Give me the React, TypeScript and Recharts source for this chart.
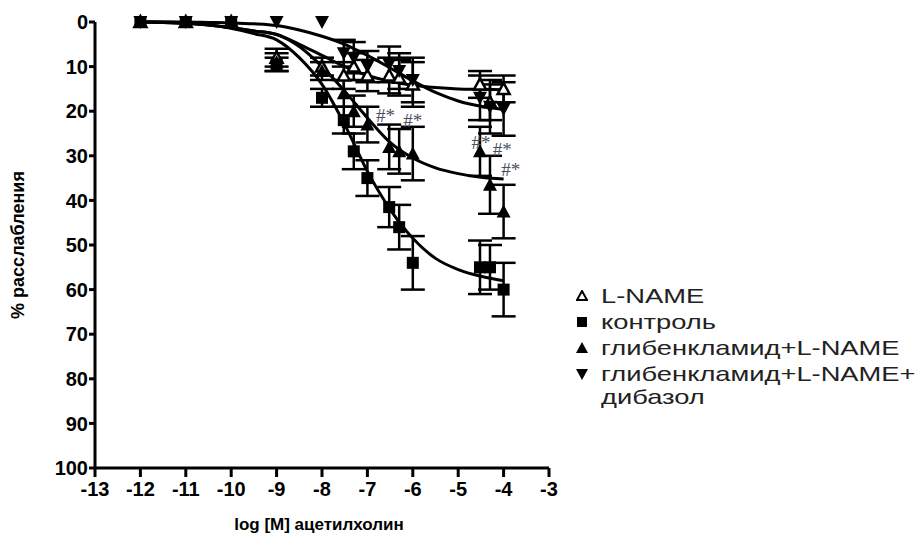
import React from 'react';
import { ComposedChart, Line, Scatter, ErrorBar, XAxis, YAxis } from 'recharts';

// log concentration of acetylcholine
const doses = [-12, -11, -10, -9, -8, -7.52, -7.3, -7, -6.52, -6.3, -6, -4.52, -4.3, -4];

const lnameMean = [0, 0, 0, 8, 10, 12, 10, 12, 12, 12.5, 14, 14, 18, 15];
const lnameErr = [0, 0, 0, 2, 2, 3, 3, 3.5, 4, 4, 5, 3, 4, 3];

const controlMean = [0, 0, 0, 9.5, 17, 22, 29, 35, 41.5, 46, 54, 55, 55, 60];
const controlErr = [0, 0, 0, 1.5, 2, 3, 4, 4, 4.5, 5, 6, 6, 5, 6];

const glibMean = [0, 0, 0, 9, 11, 16, 20, 23, 28, 29, 29.5, 29, 36.5, 42.5];
const glibErr = [0, 0, 0, 2, 2, 3, 3.5, 4, 5, 5, 6, 5.5, 6.5, 6];

const dibMean = [0, 0, 0, 0, 0, 7, 8, 10, 9.5, 11, 13, 17, 19, 19.5];
const dibErr = [0, 0, 0, 0, 0, 3, 3.5, 3.5, 4, 4, 5, 5, 6, 6];

// fitted curves
const fitX = [-12, -11.5, -11, -10.5, -10, -9.5, -9, -8.5, -8, -7.5, -7, -6.5, -6, -5.5, -5, -4.5, -4];
const controlFit = [0, 0, 0.2, 0.6, 1.4, 2.6, 4, 8, 14, 23, 33.5, 42, 48.5, 53, 55.5, 57, 58];
const glibFit = [0, 0.1, 0.3, 0.7, 1.3, 2, 2.8, 5.5, 10, 15.5, 21.5, 27, 30.5, 32.7, 34, 34.8, 35.2];
const lnameFit = [0, 0.1, 0.3, 0.7, 1.3, 2, 2.8, 5, 7.5, 10, 12, 13.3, 14.2, 14.7, 15, 15.1, 15.2];
const dibFit = [0, 0, 0, 0.1, 0.2, 0.4, 0.8, 1.8, 3.2, 5, 7.5, 10.3, 13.2, 15.8, 17.7, 18.9, 19.6];

// "#*" significance marks
const markX = [-6.6, -6.0, -4.5, -4.03, -3.84];
const markY = [21, 22, 27, 28.5, 33];

const xTicks = [-13, -12, -11, -10, -9, -8, -7, -6, -5, -4, -3];
const yTicks = [0, 10, 20, 30, 40, 50, 60, 70, 80, 90, 100];

const pts = (ys: number[], errs: number[]) => doses.map((x, i) => ({ x, y: ys[i], err: errs[i] }));
const fit = (ys: number[]) => fitX.map((x, i) => ({ x, y: ys[i] }));
const marks = markX.map((x, i) => ({ x, y: markY[i] }));

const Square = (p: any) => <rect x={p.cx - 6} y={p.cy - 6} width={12} height={12} fill="#000" />;
const TriUp = (p: any) => (
    <polygon points={`${p.cx},${p.cy - 7} ${p.cx - 7},${p.cy + 6} ${p.cx + 7},${p.cy + 6}`} fill="#000" />
);
const TriOpen = (p: any) => (
    <polygon
        points={`${p.cx},${p.cy - 6} ${p.cx - 6},${p.cy + 5} ${p.cx + 6},${p.cy + 5}`}
        fill="#fff"
        stroke="#000"
        strokeWidth={2.5}
    />
);
const TriDown = (p: any) => (
    <polygon points={`${p.cx - 7},${p.cy - 6} ${p.cx + 7},${p.cy - 6} ${p.cx},${p.cy + 7}`} fill="#000" />
);
const Mark = (p: any) => (
    <text x={p.cx} y={p.cy} textAnchor="middle" dominantBaseline="central" fontFamily="Liberation Serif, serif" fontSize={19} fill="#4a5060">
        #*
    </text>
);

const font = 'Liberation Sans, Arial, sans-serif';
const tickStyle = { fill: '#000', fontSize: 20, fontWeight: 'bold' as const, fontFamily: font };

const series = [
    { name: 'lname', data: pts(lnameMean, lnameErr), shape: TriOpen },
    { name: 'control', data: pts(controlMean, controlErr), shape: Square },
    { name: 'glib', data: pts(glibMean, glibErr), shape: TriUp },
    { name: 'dib', data: pts(dibMean, dibErr), shape: TriDown },
];
const fits = [lnameFit, controlFit, glibFit, dibFit];

const legendItems = [
    { label: 'L-NAME', icon: <polygon points="6,1 1,10 11,10" fill="#fff" stroke="#000" strokeWidth={2} /> },
    { label: 'контроль', icon: <rect x={1} y={1} width={10} height={10} fill="#000" /> },
    { label: 'глибенкламид+L-NAME', icon: <polygon points="6,0 0,11 12,11" fill="#000" /> },
    { label: 'глибенкламид+L-NAME+', icon: <polygon points="0,1 12,1 6,12" fill="#000" /> },
];

const stretched = { display: 'inline-block', transform: 'scaleX(1.3)', transformOrigin: 'left center' };

export default function App() {
    return (
        <div style={{ position: 'absolute', left: 0, top: 0, width: 921, height: 542, background: '#fff', fontFamily: font }}>
            <ComposedChart width={921} height={542} margin={{ top: 22, right: 372, bottom: 0, left: 0 }}>
                <XAxis
                    type="number"
                    dataKey="x"
                    domain={[-13, -3]}
                    ticks={xTicks}
                    allowDataOverflow
                    height={74}
                    axisLine={{ stroke: '#000', strokeWidth: 3 }}
                    tickLine={{ stroke: '#000', strokeWidth: 3 }}
                    tickSize={9}
                    tickMargin={5}
                    tick={tickStyle}
                />
                <YAxis
                    type="number"
                    dataKey="y"
                    reversed
                    domain={[0, 100]}
                    ticks={yTicks}
                    width={95}
                    axisLine={{ stroke: '#000', strokeWidth: 3 }}
                    tickLine={{ stroke: '#000', strokeWidth: 3 }}
                    tickSize={6}
                    tickMargin={1}
                    tick={tickStyle}
                />
                {fits.map((f, i) => (
                    <Line
                        key={`fit-${i}`}
                        data={fit(f)}
                        dataKey="y"
                        type="monotone"
                        stroke="#000"
                        strokeWidth={3}
                        dot={false}
                        activeDot={false}
                        isAnimationActive={false}
                        legendType="none"
                    />
                ))}
                {series.map((s) => (
                    <Scatter key={s.name} data={s.data} dataKey="y" shape={s.shape} isAnimationActive={false}>
                        <ErrorBar dataKey="err" direction="y" width={12} stroke="#000" strokeWidth={2.5} />
                    </Scatter>
                ))}
                <Scatter data={marks} dataKey="y" shape={Mark} isAnimationActive={false} />
            </ComposedChart>

            {/* axis titles */}
            <div
                style={{
                    position: 'absolute',
                    left: 18,
                    top: 245,
                    transform: 'translate(-50%, -50%) rotate(-90deg)',
                    whiteSpace: 'nowrap',
                    fontSize: 18,
                    fontWeight: 'bold',
                }}
            >
                % расслабления
            </div>
            <div
                style={{
                    position: 'absolute',
                    left: 319,
                    top: 525,
                    transform: 'translate(-50%, -50%)',
                    whiteSpace: 'nowrap',
                    fontSize: 17,
                    fontWeight: 'bold',
                }}
            >
                log [M] ацетилхолин
            </div>

            {/* legend */}
            <div style={{ position: 'absolute', left: 576, top: 283, fontSize: 21, color: '#222', lineHeight: '26px' }}>
                {legendItems.map((it) => (
                    <div key={it.label} style={{ display: 'flex', alignItems: 'center', whiteSpace: 'nowrap' }}>
                        <svg width={12} height={12} style={{ marginRight: 13, flexShrink: 0 }}>
                            {it.icon}
                        </svg>
                        <span style={stretched}>{it.label}</span>
                    </div>
                ))}
                <div style={{ paddingLeft: 25, marginTop: -3, whiteSpace: 'nowrap' }}>
                    <span style={stretched}>дибазол</span>
                </div>
            </div>
        </div>
    );
}
